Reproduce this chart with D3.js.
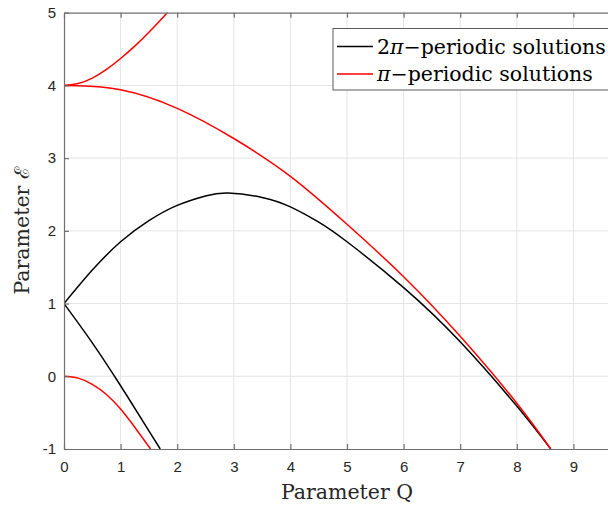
<!DOCTYPE html>
<html>
<head>
<meta charset="utf-8">
<script src="https://cdn.jsdelivr.net/npm/d3@7"></script>
<style>
  html, body { margin: 0; padding: 0; background: #fff; }
  svg { display: block; }
</style>
</head>
<body>
<svg id="chart" width="608" height="509"></svg>
<script>
// Tick values
const qTicks = [0, 1, 2, 3, 4, 5, 6, 7, 8, 9];
const eTicks = [-1, 0, 1, 2, 3, 4, 5];

// 2π-periodic branches (black)
const blackUpperQ = [0, 0.5, 1, 1.5, 2, 2.5, 2.9, 3.5, 4, 4.5, 5, 6, 7, 8, 8.6];
const blackUpperE = [1, 1.46, 1.85, 2.14, 2.35, 2.48, 2.52, 2.46, 2.33, 2.12, 1.85, 1.22, 0.475, -0.41, -1];
const blackLowerQ = [0, 0.5, 1, 1.5, 1.7];
const blackLowerE = [1, 0.46, -0.13, -0.75, -1];

// π-periodic branches (red)
const redTopQ = [0, 0.25, 0.5, 0.75, 1, 1.25, 1.5, 1.8, 1.9];
const redTopE = [4, 4.025, 4.1, 4.22, 4.37, 4.54, 4.73, 4.98, 5.07];
const redMidQ = [0, 0.25, 1, 2, 3, 4, 5, 6, 7, 8, 8.6];
const redMidE = [4.0, 3.995, 3.94, 3.685, 3.27, 2.75, 2.09, 1.37, 0.55, -0.37, -1];
const redLowQ = [0, 0.25, 0.5, 0.75, 1, 1.25, 1.53];
const redLowE = [0, -0.025, -0.11, -0.25, -0.45, -0.7, -1];

// legend entries: [prefix, Greek symbol, suffix]
const legendLabels = [["2", "π", "−periodic solutions"], ["", "π", "−periodic solutions"]];
const seriesColors = ["#000000", "#ff0000"];

const svg = d3.select("#chart");
const plotLeft = 64, plotTop = 12.7, plotBottom = 449, unitX = 56.6;

const x = d3.scaleLinear().domain([0, 10]).range([plotLeft, plotLeft + unitX * 10]);
const y = d3.scaleLinear().domain([-1, 5]).range([plotBottom, plotTop]);

const plotRight = x(10);

svg.append("defs").append("clipPath").attr("id", "plotClip")
  .append("rect").attr("x", plotLeft).attr("y", plotTop)
  .attr("width", plotRight - plotLeft).attr("height", plotBottom - plotTop);

// grid
const grid = svg.append("g").attr("stroke", "#e4e4e4").attr("stroke-width", 1);
grid.selectAll("line.v").data(qTicks.filter(d => d > 0)).join("line")
  .attr("class", "v")
  .attr("x1", d => x(d)).attr("x2", d => x(d))
  .attr("y1", plotTop).attr("y2", plotBottom);
grid.selectAll("line.h").data(eTicks.filter(d => d > -1 && d < 5)).join("line")
  .attr("class", "h")
  .attr("x1", plotLeft).attr("x2", plotRight)
  .attr("y1", d => y(d)).attr("y2", d => y(d));

// curves
const line = d3.line()
  .x(d => x(d[0])).y(d => y(d[1]))
  .curve(d3.curveNatural);

const curves = [
  { q: blackUpperQ, e: blackUpperE, c: seriesColors[0] },
  { q: blackLowerQ, e: blackLowerE, c: seriesColors[0] },
  { q: redTopQ, e: redTopE, c: seriesColors[1] },
  { q: redMidQ, e: redMidE, c: seriesColors[1] },
  { q: redLowQ, e: redLowE, c: seriesColors[1] }
];

svg.append("g").attr("clip-path", "url(#plotClip)")
  .selectAll("path").data(curves).join("path")
  .attr("d", d => line(d.q.map((q, i) => [q, d.e[i]])))
  .attr("fill", "none")
  .attr("stroke", d => d.c)
  .attr("stroke-width", 1.5);

// axes (ticks inside, box on)
const axisColor = "#6f6f6f";
const fmt = d => String(d);
const xAxisB = d3.axisBottom(x).tickValues(qTicks).tickFormat(fmt).tickSizeInner(-5).tickSizeOuter(0).tickPadding(12);
const xAxisT = d3.axisTop(x).tickValues(qTicks).tickSizeInner(-5).tickSizeOuter(0).tickFormat("");
const yAxisL = d3.axisLeft(y).tickValues(eTicks).tickFormat(fmt).tickSizeInner(-5).tickSizeOuter(0).tickPadding(8);

function styleAxis(g) {
  g.select(".domain").attr("stroke", axisColor).attr("stroke-width", 1.2);
  g.selectAll(".tick line").attr("stroke", axisColor).attr("stroke-width", 1.2);
  g.selectAll(".tick text").attr("fill", "#262626")
    .style("font-family", "'Liberation Sans', Arial, sans-serif").style("font-size", "15px");
}

svg.append("g").attr("transform", `translate(0,${plotBottom})`).call(xAxisB).call(styleAxis);
svg.append("g").attr("transform", `translate(0,${plotTop})`).call(xAxisT).call(styleAxis);
svg.append("g").attr("transform", `translate(${plotLeft},0)`).call(yAxisL).call(styleAxis);

// axis titles
const serif = "'DejaVu Serif', serif";
svg.append("text")
  .attr("x", 347).attr("y", 499)
  .attr("text-anchor", "middle")
  .style("font-family", serif).style("font-size", "20.5px")
  .attr("fill", "#262626")
  .text("Parameter Q");

svg.append("text")
  .attr("transform", `translate(29,${(plotTop + plotBottom) / 2}) rotate(-90)`)
  .attr("text-anchor", "middle")
  .style("font-family", serif).style("font-size", "20.5px")
  .attr("fill", "#262626")
  .text("Parameter ℰ");

// legend
const lg = svg.append("g");
lg.append("rect")
  .attr("x", 333).attr("y", 28.5).attr("width", 300).attr("height", 61.5)
  .attr("fill", "#fff").attr("stroke", "#5a5a5a").attr("stroke-width", 1);
legendLabels.forEach((parts, i) => {
  const yy = 46.5 + i * 27.5;
  lg.append("line").attr("x1", 337).attr("x2", 373).attr("y1", yy).attr("y2", yy)
    .attr("stroke", seriesColors[i]).attr("stroke-width", 1.5);
  const t = lg.append("text").attr("x", 377).attr("y", yy + 7)
    .style("font-family", serif).style("font-size", "20.5px")
    .attr("fill", "#000");
  if (parts[0]) t.append("tspan").text(parts[0]);
  t.append("tspan").style("font-style", "italic").text(parts[1]);
  t.append("tspan").text(parts[2]);
});
</script>
</body>
</html>
